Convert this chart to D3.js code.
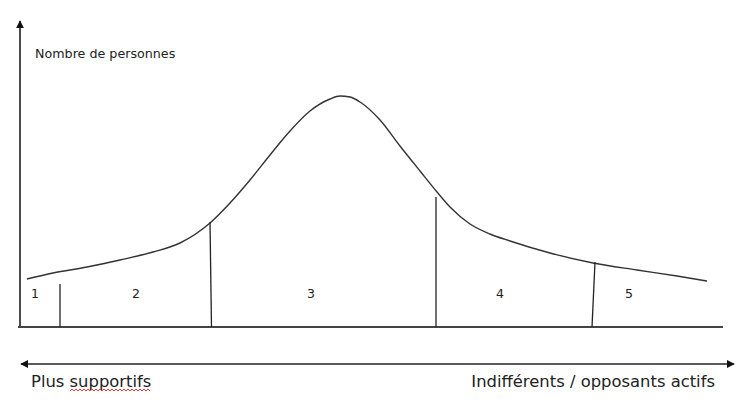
<!DOCTYPE html>
<html>
<head>
<meta charset="utf-8">
<script src="https://cdn.jsdelivr.net/npm/d3@7"></script>
<style>
  body { margin: 0; background: #fff; }
  text { font-family: "DejaVu Sans", Verdana, sans-serif; fill: #222; }
</style>
</head>
<body>
<div id="chart"></div>
<script>
// curve of the number of people along the opinion axis
const curveX = [7, 33, 67, 100, 133, 160, 190, 210, 230, 250, 270, 290, 310, 320, 330, 340, 360, 380, 400, 417, 430, 450, 470, 490, 530, 573, 617, 657, 687];
const curveY = [48, 54, 60, 67, 75, 84, 104, 124, 147, 172, 196, 216, 228, 231, 230, 225, 207, 181, 156, 135, 120, 103, 93, 86, 74, 64, 57, 51, 46];

// dividers between the groups (bottom x, top x, top value)
const dividerBottom = [40, 191.5, 416, 572];
const dividerTop = [40, 190, 416, 575];
const dividerHeight = [43, 105, 130, 65];

// group labels
const groupLabels = ["1", "2", "3", "4", "5"];
const groupLabelX = [15, 116, 291, 480, 609];

const width = 750, height = 402;
const margin = {left: 20, right: 25, bottom: 75, top: 27};

const svg = d3.select("#chart")
  .append("svg")
  .attr("width", width)
  .attr("height", height);

const x = d3.scaleLinear()
  .domain([0, 705])
  .range([margin.left, width - margin.right]);
const y = d3.scaleLinear()
  .domain([0, 300])
  .range([height - margin.bottom, margin.top]);

const defs = svg.append("defs");
defs.append("marker")
  .attr("id", "arrow")
  .attr("viewBox", "0 0 10 10")
  .attr("refX", 9).attr("refY", 5)
  .attr("markerWidth", 8).attr("markerHeight", 8)
  .attr("markerUnits", "userSpaceOnUse")
  .attr("orient", "auto-start-reverse")
  .append("path")
  .attr("d", "M0,0 L10,5 L0,10 z")
  .attr("fill", "#111");

// y axis with arrow
svg.append("line")
  .attr("x1", x(0)).attr("x2", x(0))
  .attr("y1", y(0)).attr("y2", 21)
  .attr("stroke", "#111").attr("stroke-width", 1.5)
  .attr("marker-end", "url(#arrow)");

// x axis
svg.append("line")
  .attr("x1", x(-2)).attr("x2", x(703))
  .attr("y1", y(0)).attr("y2", y(0))
  .attr("stroke", "#444").attr("stroke-width", 2);

svg.append("text")
  .attr("x", 35).attr("y", 58)
  .style("font-size", "12.7px")
  .text("Nombre de personnes");

// the curve
const line = d3.line()
  .x(d => x(d[0]))
  .y(d => y(d[1]))
  .curve(d3.curveMonotoneX);

svg.append("path")
  .datum(curveX.map((v, i) => [v, curveY[i]]))
  .attr("d", line)
  .attr("fill", "none")
  .attr("stroke", "#333")
  .attr("stroke-width", 1.4);

// dividers
svg.selectAll(".divider")
  .data(dividerBottom)
  .join("line")
  .attr("class", "divider")
  .attr("x1", d => x(d))
  .attr("x2", (d, i) => x(dividerTop[i]))
  .attr("y1", y(0))
  .attr("y2", (d, i) => y(dividerHeight[i]))
  .attr("stroke", "#222")
  .attr("stroke-width", 1.3);

svg.selectAll(".group-label")
  .data(groupLabels)
  .join("text")
  .attr("class", "group-label")
  .attr("x", (d, i) => x(groupLabelX[i]))
  .attr("y", 298)
  .attr("text-anchor", "middle")
  .style("font-size", "12.5px")
  .text(d => d);

// double arrow below
svg.append("line")
  .attr("x1", 21).attr("x2", 734)
  .attr("y1", 364).attr("y2", 364)
  .attr("stroke", "#222").attr("stroke-width", 1.3)
  .attr("marker-start", "url(#arrow)")
  .attr("marker-end", "url(#arrow)");

svg.append("text")
  .attr("x", 31).attr("y", 387)
  .style("font-size", "16.4px")
  .text("Plus supportifs");

// spell-check squiggle under "supportifs"
const squiggle = [];
for (let px = 70; px <= 151; px += 2) squiggle.push([px, (px / 2) % 2 === 0 ? 389 : 391]);
svg.append("path")
  .attr("d", d3.line()(squiggle))
  .attr("fill", "none")
  .attr("stroke", "#d22")
  .attr("stroke-width", 0.9);

svg.append("text")
  .attr("x", 715).attr("y", 387)
  .attr("text-anchor", "end")
  .style("font-size", "16.4px")
  .text("Indifférents / opposants actifs");
</script>
</body>
</html>
